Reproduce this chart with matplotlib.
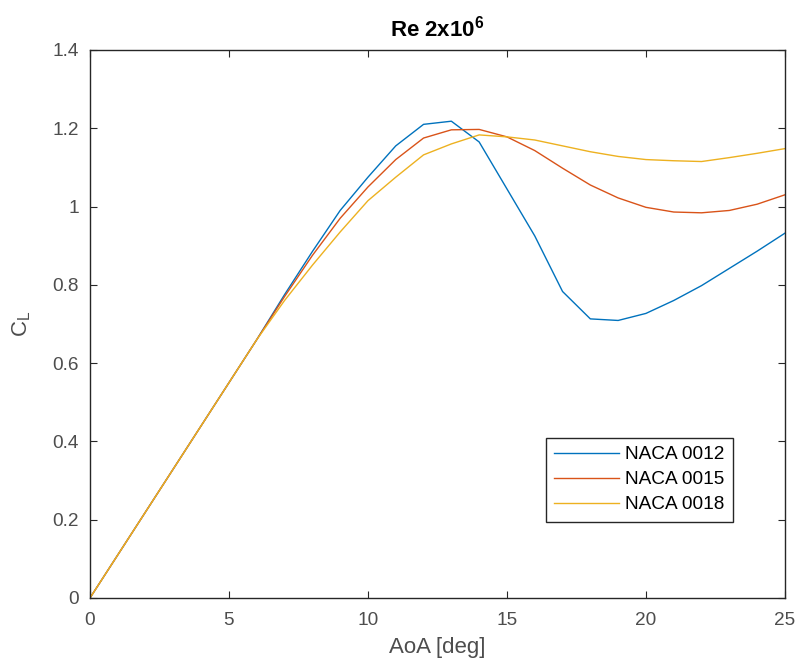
import numpy as np
import matplotlib
matplotlib.use("Agg")
import matplotlib.pyplot as plt

plt.rcParams['font.family'] = ['Liberation Sans', 'DejaVu Sans']

# ===============================
# Data
# ===============================
aoa = list(range(0, 26))

cl_0012 = [0.0, 0.11, 0.22, 0.33, 0.44, 0.55, 0.66, 0.775, 0.885, 0.99,
           1.075, 1.155, 1.21, 1.218, 1.165, 1.045, 0.925, 0.783, 0.713, 0.709,
           0.727, 0.76, 0.798, 0.842, 0.886, 0.932]

cl_0015 = [0.0, 0.11, 0.22, 0.33, 0.44, 0.55, 0.66, 0.77, 0.875, 0.97,
           1.05, 1.12, 1.175, 1.196, 1.197, 1.178, 1.143, 1.098, 1.055, 1.022,
           0.998, 0.986, 0.984, 0.99, 1.006, 1.03]

cl_0018 = [0.0, 0.11, 0.22, 0.33, 0.44, 0.55, 0.66, 0.76, 0.85, 0.935,
           1.015, 1.075, 1.132, 1.16, 1.183, 1.178, 1.17, 1.155, 1.14, 1.128,
           1.12, 1.117, 1.115, 1.125, 1.136, 1.148]

labels = ["NACA 0012", "NACA 0015", "NACA 0018"]
colors = ["#0072BD", "#D95319", "#EDB120"]


def main():
    fig = plt.figure(figsize=(7.99, 6.68), dpi=100)
    ax = fig.add_axes([0.1126, 0.1048, 0.8698, 0.8204])

    for cl, lab, col in zip([cl_0012, cl_0015, cl_0018], labels, colors):
        ax.plot(aoa, cl, color=col, linewidth=1.0, label=lab)

    ax.set_xlim(0, 25)
    ax.set_ylim(0, 1.4)
    ax.set_xticks([0, 5, 10, 15, 20, 25])
    ax.set_yticks([0, 0.2, 0.4, 0.6, 0.8, 1, 1.2, 1.4])
    ax.set_yticklabels(["0", "0.2", "0.4", "0.6", "0.8", "1", "1.2", "1.4"])

    ax.tick_params(direction="in", top=True, right=True, length=5,
                   labelsize=13.7, colors="#262626", labelcolor="#4d4d4d")
    ax.tick_params(axis="x", pad=10)
    ax.tick_params(axis="y", pad=8)
    for sp in ax.spines.values():
        sp.set_color("#262626")
        sp.set_linewidth(1.0)

    ax.set_xlabel("AoA [deg]", fontsize=16, color="#4d4d4d", labelpad=6)
    ax.set_ylabel("C$_\\mathregular{L}$", fontsize=16, color="#4d4d4d", labelpad=14)
    ax.set_title("Re 2x10$^\\mathregular{6}$", fontsize=16, fontweight="bold",
                 color="black", pad=10)

    leg = ax.legend(loc="lower right", bbox_to_anchor=(0.925, 0.139),
                    fontsize=13.7, handlelength=3.4, handletextpad=0.3,
                    labelspacing=0.4, borderpad=0.45, borderaxespad=0,
                    fancybox=False, framealpha=1.0, edgecolor="#262626")
    leg.get_frame().set_linewidth(1.0)

    fig.savefig("out.png", dpi=100)


if __name__ == "__main__":
    main()
